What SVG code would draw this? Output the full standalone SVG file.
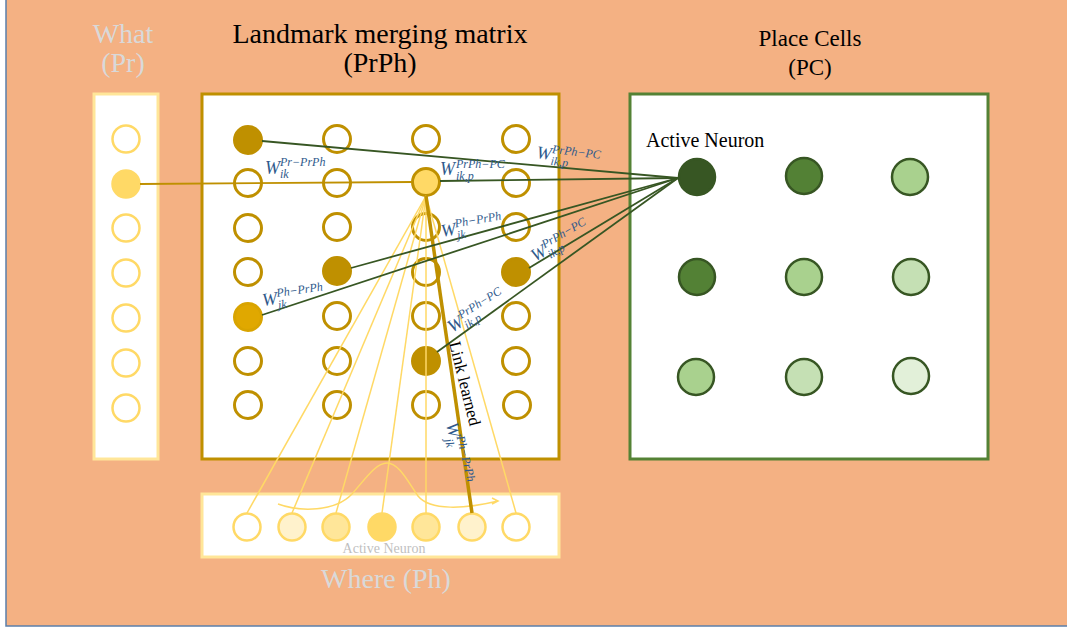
<svg xmlns="http://www.w3.org/2000/svg" width="1067" height="630" viewBox="0 0 1067 630">
<style>
.t{font-family:"Liberation Serif","Times New Roman",serif}
.gray{fill:#D9D9D9}
.w{font-family:"Liberation Serif","Times New Roman",serif;font-style:italic;font-size:18px;fill:#2F5A8C}
.s{font-size:12px}
.m{stroke:#BF9000;stroke-width:3;fill:none}
.mf{stroke:#BF9000;stroke-width:3;fill:#BF9000}
.p{stroke:#FFD966;stroke-width:2.5;fill:#FFFFFF}
.pc{stroke:#375623;stroke-width:2.5}
.gl{stroke:#375623;stroke-width:1.8;fill:none}
.yl{stroke:#FFD966;stroke-width:1.5;fill:none}
</style>
<rect x="6" y="-4" width="1065" height="630" fill="#F4B183" stroke="#5B7FAA" stroke-width="1.5"/>

<g id="titles" class="t">
<text x="123" y="43" font-size="28" text-anchor="middle" class="gray">What</text>
<text x="123" y="72" font-size="28" text-anchor="middle" class="gray">(Pr)</text>
<text x="380" y="43" font-size="28" text-anchor="middle" fill="#000">Landmark merging matrix</text>
<text x="380" y="72" font-size="28" text-anchor="middle" fill="#000">(PrPh)</text>
<text x="810" y="46" font-size="23" text-anchor="middle" fill="#000">Place Cells</text>
<text x="810" y="75" font-size="23" text-anchor="middle" fill="#000">(PC)</text>
<text x="386" y="588" font-size="28" text-anchor="middle" class="gray">Where (Ph)</text>
</g>

<g id="what-box"><rect x="94" y="94" width="64" height="365" fill="#FFFFFF" stroke="#FFE699" stroke-width="3"/></g>
<g id="matrix-box"><rect x="202" y="94" width="357" height="365" fill="#FFFFFF" stroke="#BF9000" stroke-width="3"/></g>
<g id="pc-box"><rect x="630" y="94" width="358" height="365" fill="#FFFFFF" stroke="#548235" stroke-width="3"/></g>
<g id="where-box"><rect x="202" y="494" width="357" height="63" fill="#FFFFFF" stroke="#FFE699" stroke-width="3"/></g>

<g id="what-neurons">
<g id="pr1"><circle class="p" cx="126" cy="139" r="13.5"/></g>
<g id="pr2"><circle class="p" cx="126" cy="184" r="13.5" style="fill:#FFD966"/></g>
<g id="pr3"><circle class="p" cx="126" cy="228" r="13.5"/></g>
<g id="pr4"><circle class="p" cx="126" cy="273" r="13.5"/></g>
<g id="pr5"><circle class="p" cx="126" cy="318" r="13.5"/></g>
<g id="pr6"><circle class="p" cx="126" cy="363" r="13.5"/></g>
<g id="pr7"><circle class="p" cx="126" cy="408" r="13.5"/></g>
</g>

<g id="matrix-neurons">
<g id="m11"><circle class="mf" cx="248" cy="140" r="13.5"/></g>
<g id="m12"><circle class="m" cx="337" cy="139" r="13.5"/></g>
<g id="m13"><circle class="m" cx="426" cy="139" r="13.5"/></g>
<g id="m14"><circle class="m" cx="516" cy="139" r="13.5"/></g>
<g id="m21"><circle class="m" cx="248" cy="183" r="13.5"/></g>
<g id="m22"><circle class="m" cx="337" cy="183" r="13.5"/></g>
<g id="m23"><circle class="m" cx="426" cy="182" r="13.5" style="fill:#FFD966"/></g>
<g id="m24"><circle class="m" cx="516" cy="183" r="13.5"/></g>
<g id="m31"><circle class="m" cx="248" cy="228" r="13.5"/></g>
<g id="m32"><circle class="m" cx="337" cy="227" r="13.5"/></g>
<g id="m33"><circle class="m" cx="426" cy="227" r="13.5"/></g>
<g id="m34"><circle class="m" cx="516" cy="227" r="13.5"/></g>
<g id="m41"><circle class="m" cx="248" cy="272" r="13.5"/></g>
<g id="m42"><circle class="mf" cx="337" cy="271" r="13.5"/></g>
<g id="m43"><circle class="m" cx="426" cy="272" r="13.5"/></g>
<g id="m44"><circle class="mf" cx="516" cy="272" r="13.5"/></g>
<g id="m51"><circle class="m" cx="248" cy="317" r="13.5" style="fill:#E0A800;stroke:#D9A400"/></g>
<g id="m52"><circle class="m" cx="337" cy="316" r="13.5"/></g>
<g id="m53"><circle class="m" cx="426" cy="316" r="13.5"/></g>
<g id="m54"><circle class="m" cx="516" cy="316" r="13.5"/></g>
<g id="m61"><circle class="m" cx="248" cy="361" r="13.5"/></g>
<g id="m62"><circle class="m" cx="337" cy="361" r="13.5"/></g>
<g id="m63"><circle class="mf" cx="426" cy="361" r="13.5"/></g>
<g id="m64"><circle class="m" cx="516" cy="361" r="13.5"/></g>
<g id="m71"><circle class="m" cx="248" cy="405" r="13.5"/></g>
<g id="m72"><circle class="m" cx="337" cy="405" r="13.5"/></g>
<g id="m73"><circle class="m" cx="426" cy="405" r="13.5"/></g>
<g id="m74"><circle class="m" cx="517" cy="405" r="13.5"/></g>
</g>

<g id="pc-neurons">
<g id="pc11"><circle class="pc" cx="697" cy="177" r="18" fill="#375623"/></g>
<g id="pc12"><circle class="pc" cx="804" cy="176" r="18" fill="#538135"/></g>
<g id="pc13"><circle class="pc" cx="910" cy="177" r="18" fill="#A9D18E"/></g>
<g id="pc21"><circle class="pc" cx="697" cy="277" r="18" fill="#538135"/></g>
<g id="pc22"><circle class="pc" cx="804" cy="277" r="18" fill="#A9D18E"/></g>
<g id="pc23"><circle class="pc" cx="911" cy="277" r="18" fill="#C5E0B4"/></g>
<g id="pc31"><circle class="pc" cx="696" cy="377" r="18" fill="#A9D18E"/></g>
<g id="pc32"><circle class="pc" cx="804" cy="377" r="18" fill="#C5E0B4"/></g>
<g id="pc33"><circle class="pc" cx="911" cy="376" r="18" fill="#E2F0D9"/></g>
<text class="t" x="646" y="147" font-size="20" fill="#000">Active Neuron</text>
</g>

<g id="where-neurons">
<g id="ph1"><circle class="p" cx="247" cy="527" r="13.5"/></g>
<g id="ph2"><circle class="p" cx="292" cy="527" r="13.5" style="fill:#FFF2CC"/></g>
<g id="ph3"><circle class="p" cx="336" cy="527" r="13.5" style="fill:#FFE699"/></g>
<g id="ph4"><circle class="p" cx="382" cy="527" r="13.5" style="fill:#FFD966"/></g>
<g id="ph5"><circle class="p" cx="426" cy="527" r="13.5" style="fill:#FFE699"/></g>
<g id="ph6"><circle class="p" cx="472" cy="527" r="13.5" style="fill:#FFF2CC"/></g>
<g id="ph7"><circle class="p" cx="516" cy="527" r="13.5"/></g>
<text class="t" x="384" y="553" font-size="14" text-anchor="middle" fill="#BFBFBF">Active Neuron</text>
</g>

<g id="connectors">
<line x1="140" y1="184" x2="412" y2="182" stroke="#BF9000" stroke-width="1.8"/>
<g class="yl">
<line x1="426" y1="196" x2="247" y2="513"/>
<line x1="426" y1="196" x2="292" y2="513"/>
<line x1="426" y1="196" x2="336" y2="513"/>
<line x1="426" y1="196" x2="382" y2="513"/>
<line x1="426" y1="196" x2="426" y2="513"/>
<line x1="426" y1="196" x2="516" y2="513"/>
<path d="M278,504 C300,512 335,512 352,494 C366,478 376,463 387,463 C399,463 408,482 418,496 C430,511 465,509 498,501 M492,498 L498,501 L492,504"/>
</g>
<line x1="426" y1="196" x2="472" y2="513" stroke="#BF9000" stroke-width="3.5"/>
<g class="gl">
<line x1="262" y1="141" x2="678" y2="178"/>
<line x1="440" y1="181" x2="678" y2="178"/>
<line x1="351" y1="268" x2="678" y2="178"/>
<line x1="262" y1="315" x2="678" y2="178"/>
<line x1="529" y1="268" x2="678" y2="178"/>
<line x1="437" y1="352" x2="678" y2="178"/>
</g>
</g>

<g id="labels">
<text class="w" x="265" y="174">W<tspan class="s" x="280" y="166">Pr−PrPh</tspan><tspan class="s" x="280" y="178">ik</tspan></text>
<text class="w" x="440" y="175">W<tspan class="s" x="456" y="168">PrPh−PC</tspan><tspan class="s" x="456" y="180">ik,p</tspan></text>
<g transform="translate(536,158) rotate(7)"><text class="w">W<tspan class="s" x="15" y="-7">PrPh−PC</tspan><tspan class="s" x="15" y="5">ik,p</tspan></text></g>
<g transform="translate(442,237) rotate(-10)"><text class="w">W<tspan class="s" x="15" y="-7">Ph−PrPh</tspan><tspan class="s" x="15" y="5">jk</tspan></text></g>
<g transform="translate(263,306) rotate(-8)"><text class="w">W<tspan class="s" x="15" y="-7">Ph−PrPh</tspan><tspan class="s" x="15" y="5">jk</tspan></text></g>
<g transform="translate(535,262) rotate(-30)"><text class="w">W<tspan class="s" x="15" y="-7">PrPh−PC</tspan><tspan class="s" x="15" y="5">ik,p</tspan></text></g>
<g transform="translate(452,333) rotate(-32)"><text class="w">W<tspan class="s" x="15" y="-7">PrPh−PC</tspan><tspan class="s" x="15" y="5">ik,p</tspan></text></g>
<g transform="translate(446,424) rotate(76)"><text class="w">W<tspan class="s" x="15" y="-7">Ph−PrPh</tspan><tspan class="s" x="15" y="5">jk</tspan></text></g>
<g transform="translate(449,343) rotate(76)"><text class="t" font-size="17" fill="#000">Link learned</text></g>
</g>
</svg>
